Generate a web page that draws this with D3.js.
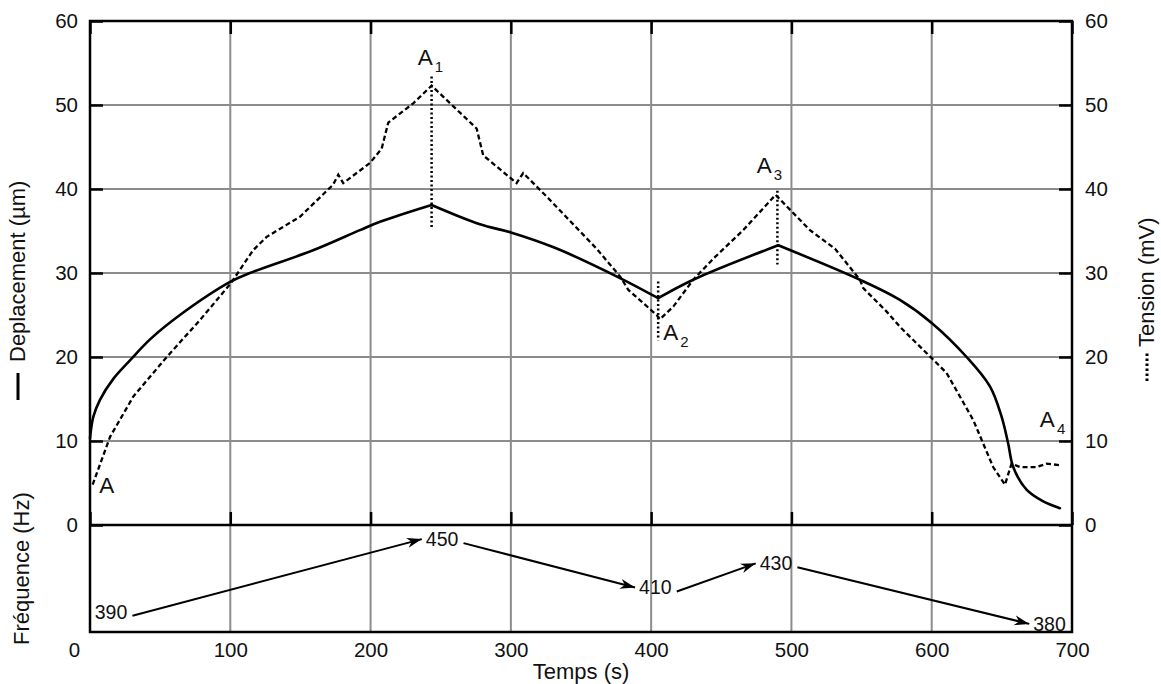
<!DOCTYPE html>
<html><head><meta charset="utf-8">
<script src="https://cdn.jsdelivr.net/npm/d3@7"></script>
<style>
body{margin:0;background:#fff}
text{font-family:"Liberation Sans",Arial,Helvetica,sans-serif;fill:#111}
</style></head>
<body><svg id="chart" width="1161" height="684"></svg>
<script>
// ---------- data ----------
const xTicks = [0,100,200,300,400,500,600,700];
const yTicks = [0,10,20,30,40,50,60];

// Deplacement (µm) – solid
const dispT = [0,0.6,2.4,7.1,16.6,28.5,42.8,64.1,100.5,114,159,192.4,206.7,243.5,278,300.6,331.4,377.8,405,430,490.6,548.8,577.3,600.4,624.9,641.5,649.8,654.5,658.1,667.6,679.5,691.4];
const dispV = [10.3,11.2,12.9,14.9,17.4,19.6,22.1,25.0,29.0,30.0,32.7,35.1,36.1,38.1,35.8,34.8,33.0,29.4,27.0,29.2,33.3,29.2,26.8,24.0,20.0,16.5,12.9,9.7,6.9,4.2,2.8,2.0];
// turning points of the solid curve (sharp corners at A1, A2, A3)
const dispKinks = [243.5, 405, 490.6];

// Tension (mV) – dashed
const tensT = [1.9,14.3,30.9,54.7,78.4,100.5,116.2,125.9,149.7,173.2,177,180.5,199.6,207.9,212.6,230.4,243.5,275.6,280.3,304.1,308.8,325.5,361.1,377.8,383.7,403.9,406.3,415.8,430,444.3,465.6,488.7,513.2,531,548.8,551.2,567.9,577.3,582.1,600.4,610.6,629.6,636.7,643.8,652.2,656.9,662.9,674.8,681.9,692.6];
const tensV = [4.8,10.5,15.3,20.0,24.4,28.8,32.7,34.3,36.7,40.5,41.7,40.7,43.1,44.8,47.9,50.2,52.3,47.2,44.0,40.7,41.9,39.1,32.9,29.6,28.0,25.0,24.5,26.0,29.2,31.7,35.1,39.3,35.1,32.9,29.2,28.2,25.4,23.6,22.8,19.8,18.1,12.5,9.7,6.9,4.8,7.3,6.9,6.9,7.3,7.1];

// vertical dotted markers at A1, A2, A3
const markerT = [243.5, 405, 490];
const markerTop = [53.4, 29.0, 39.8];
const markerBottom = [35.3, 22.0, 31.0];

// point labels
const labelSubs = ["", "1", "2", "3", "4"];
const labelT = [6.6, 233.6, 408.6, 475.2, 677.1];
const labelV = [3.8, 54.8, 22.0, 41.9, 11.7];

// frequency (Hz) sequence
const freqValues = [390, 450, 410, 430, 380];
const freqT = [15, 251, 403, 489, 684];

// ---------- layout ----------
const svg = d3.select("#chart");
const mLeft = 90, mRight = 1072, mTop = 21, zeroY = 525, mBottom = 632;
const x = d3.scaleLinear().domain([0, 700]).range([mLeft, mRight]);
const y = d3.scaleLinear().domain([0, 60]).range([zeroY, mTop]);
const fy = d3.scaleLinear().domain([370, 460]).range([636, 527]);
const gridColor = "#8c8c8c";

// gridlines
svg.append("g").selectAll("line").data(xTicks.filter(d => d > 0 && d < 700)).join("line")
  .attr("x1", d => x(d)).attr("x2", d => x(d)).attr("y1", mTop).attr("y2", mBottom)
  .attr("stroke", gridColor).attr("stroke-width", 2);
svg.append("g").selectAll("line").data(yTicks.filter(d => d > 0 && d < 60)).join("line")
  .attr("x1", mLeft).attr("x2", mRight).attr("y1", d => y(d)).attr("y2", d => y(d))
  .attr("stroke", gridColor).attr("stroke-width", 2);

function styleAxis(g) {
  g.select(".domain").remove();
  g.selectAll(".tick line").attr("stroke", "#000").attr("stroke-width", 2.5);
  g.selectAll(".tick text").attr("font-size", "20.5px").attr("fill", "#111")
    .attr("font-family", '"Liberation Sans",Arial,sans-serif');
}

// left axis
svg.append("g").attr("transform", `translate(${mLeft},0)`)
  .call(d3.axisLeft(y).tickValues(yTicks).tickSize(-13).tickPadding(12)).call(styleAxis);
// right axis
svg.append("g").attr("transform", `translate(${mRight},0)`)
  .call(d3.axisRight(y).tickValues(yTicks).tickSize(-13).tickPadding(13)).call(styleAxis);
// top ticks
svg.append("g").attr("transform", `translate(0,${mTop})`)
  .call(d3.axisTop(x).tickValues(xTicks).tickSize(-13).tickFormat("")).call(styleAxis);
// ticks on the zero line (pointing up)
svg.append("g").attr("transform", `translate(0,${zeroY})`)
  .call(d3.axisTop(x).tickValues(xTicks).tickSize(13).tickFormat("")).call(styleAxis);
// bottom axis labels
const bx = svg.append("g").attr("transform", `translate(0,${mBottom})`)
  .call(d3.axisBottom(x).tickValues(xTicks).tickSize(0).tickPadding(10)).call(styleAxis);
bx.selectAll(".tick").filter(d => d === 0).select("text").attr("x", -16);

// frame and zero line
svg.append("rect").attr("x", mLeft).attr("y", mTop).attr("width", mRight - mLeft).attr("height", mBottom - mTop)
  .attr("fill", "none").attr("stroke", "#000").attr("stroke-width", 2.5);
svg.append("line").attr("x1", mLeft).attr("x2", mRight).attr("y1", zeroY).attr("y2", zeroY)
  .attr("stroke", "#000").attr("stroke-width", 2.5);

// series
const smooth = d3.line().x(d => x(d[0])).y(d => y(d[1])).curve(d3.curveCatmullRom.alpha(0.5));
const linear = d3.line().x(d => x(d[0])).y(d => y(d[1]));
const dispPts = dispT.map((t, i) => [t, dispV[i]]);
// split solid curve at its corners, smooth each piece
const bounds = [0, ...dispKinks, Infinity];
const pieces = d3.range(bounds.length - 1).map(k =>
  dispPts.filter(p => p[0] >= bounds[k] && p[0] <= bounds[k + 1]));
svg.append("g").selectAll("path").data(pieces).join("path")
  .attr("d", smooth).attr("fill", "none").attr("stroke", "#000").attr("stroke-width", 2.6)
  .attr("stroke-linejoin", "round").attr("stroke-linecap", "round");
svg.append("path").datum(tensT.map((t, i) => [t, tensV[i]]))
  .attr("d", linear).attr("fill", "none").attr("stroke", "#000").attr("stroke-width", 2.3)
  .attr("stroke-dasharray", "5,3");

// dotted markers
svg.append("g").selectAll("line").data(markerT).join("line")
  .attr("x1", d => x(d)).attr("x2", d => x(d))
  .attr("y1", (d, i) => y(markerTop[i])).attr("y2", (d, i) => y(markerBottom[i]))
  .attr("stroke", "#000").attr("stroke-width", 2.5).attr("stroke-dasharray", "2,2.5");

// point labels
const lab = svg.append("g").selectAll("text").data(labelT).join("text")
  .attr("x", d => x(d)).attr("y", (d, i) => y(labelV[i])).attr("font-size", "22.5px");
lab.append("tspan").text("A");
lab.append("tspan").text((d, i) => labelSubs[i]).attr("font-size", "15px").attr("dx", 2).attr("dy", 7);

// frequency annotations
svg.append("defs").append("marker").attr("id", "arrow")
  .attr("viewBox", "-15 -6 16 12").attr("refX", 0).attr("refY", 0)
  .attr("markerWidth", 16).attr("markerHeight", 12).attr("markerUnits", "userSpaceOnUse")
  .attr("orient", "auto")
  .append("path").attr("d", "M0,0 L-15,-5 L-10.5,0 L-15,5 Z").attr("fill", "#000");

const fl = svg.append("g").selectAll("text").data(freqValues).join("text")
  .attr("x", (d, i) => x(freqT[i])).attr("y", d => fy(d)).attr("dy", "0.35em")
  .attr("text-anchor", "middle").attr("font-size", "19.5px").text(d => d);
const boxes = fl.nodes().map(n => n.getBBox());
const arrows = d3.range(freqValues.length - 1).map(i => {
  const a = boxes[i], b = boxes[i + 1];
  return {x1: a.x + a.width + 5, y1: fy(freqValues[i]) + 4, x2: b.x - 4, y2: fy(freqValues[i + 1])};
});
svg.append("g").selectAll("line").data(arrows).join("line")
  .attr("x1", d => d.x1).attr("y1", d => d.y1).attr("x2", d => d.x2).attr("y2", d => d.y2)
  .attr("stroke", "#000").attr("stroke-width", 2).attr("marker-end", "url(#arrow)");

// axis titles
const lt = svg.append("g").attr("transform", "translate(25,0) rotate(-90)");
lt.append("text").attr("x", -362).attr("y", 0).attr("font-size", "22px").text("Deplacement (µm)");
lt.append("line").attr("x1", -400).attr("x2", -373).attr("y1", -7).attr("y2", -7)
  .attr("stroke", "#000").attr("stroke-width", 3);

const ft = svg.append("g").attr("transform", "translate(29,0) rotate(-90)");
ft.append("text").attr("x", -645).attr("y", 0).attr("font-size", "22px").text("Fréquence (Hz)");

const rt = svg.append("g").attr("transform", "translate(1154,0) rotate(-90)");
rt.append("text").attr("x", -347).attr("y", 0).attr("font-size", "22px").text("Tension (mV)");
rt.append("line").attr("x1", -381).attr("x2", -353).attr("y1", -7).attr("y2", -7)
  .attr("stroke", "#000").attr("stroke-width", 3).attr("stroke-dasharray", "2.5,2.5");

svg.append("text").attr("x", (mLeft + mRight) / 2).attr("y", 679).attr("text-anchor", "middle")
  .attr("font-size", "22px").text("Temps (s)");
</script>
</body></html>
